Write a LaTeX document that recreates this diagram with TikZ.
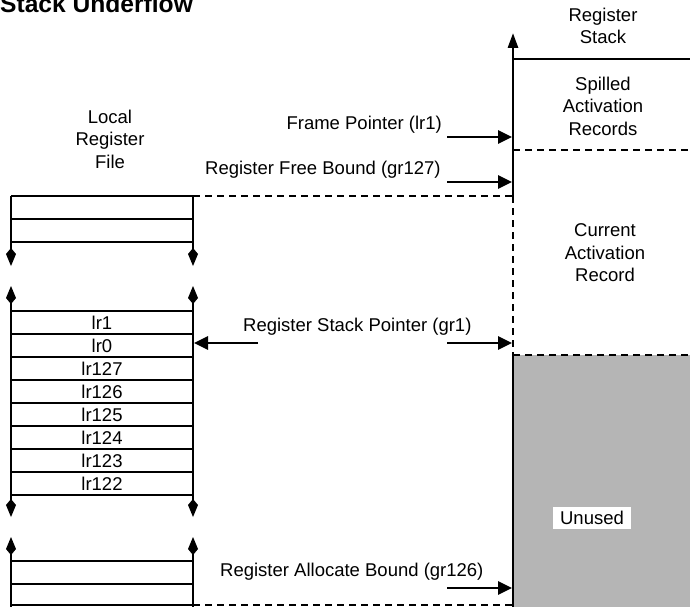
\documentclass[tikz,border=0pt]{standalone}
\usepackage{fontspec}
\setmainfont{Liberation Sans}
\usetikzlibrary{arrows.meta}
\begin{document}
\begin{tikzpicture}[x=1pt,y=-1pt,
  lw/.style={line width=2.8pt},
  dsh/.style={line width=2.8pt, dash pattern=on 7pt off 5pt},
  lbl/.style={font=\fontsize{18.5}{22.5}\selectfont, inner sep=0pt, align=center},
  row/.style={draw, line width=2.8pt, minimum width=182pt, minimum height=23pt, inner sep=0pt, font=\fontsize{18.5}{22.5}\selectfont},
  ptr/.style={line width=2.8pt, -{Triangle[length=14pt,width=13pt]}},
  kite/.style={line width=2.8pt, -{Kite[length=18pt,width=10pt,inset=6pt]}},
  kite2/.style={line width=2.8pt, {Kite[length=18pt,width=10pt,inset=6pt]}-{Kite[length=18pt,width=10pt,inset=6pt]}},
]
\useasboundingbox (0,0) rectangle (690,607);
\clip (0,0) rectangle (690,607);

% title (clipped at top, as in the reference)
\node[anchor=base west, font=\fontsize{24.6}{28}\selectfont\bfseries, inner sep=0pt] (title) at (0,13) {Stack Underflow};

% unused area
\fill[gray!58] (513,355) rectangle (690,607);
\node[lbl, fill=white, inner xsep=7pt, inner ysep=4pt] (un) at (592,518) {Unused};

% key coordinates
\coordinate (fl) at (11,196); \coordinate (fr) at (193,196);
\coordinate (st) at (513,33); \coordinate (s1) at (513,196);
\coordinate (s2) at (513,355); \coordinate (s3) at (513,607);
\coordinate (sR1) at (690,59); \coordinate (sL1) at (513,59);
\coordinate (sR2) at (690,150); \coordinate (sL2) at (513,150);
\coordinate (sR3) at (690,355);
\coordinate (bl) at (193,605); \coordinate (br) at (513,605);

% local register file: top section
\draw[lw] (fl) -- (fr);
\draw[lw] (11,219) -- (193,219);
\draw[lw] (11,242) -- (193,242);
\draw[kite] (fl) -- (11,266);
\draw[kite] (fr) -- (193,266);

% middle section
\draw[kite2] (11,286) -- (11,517);
\draw[kite2] (193,286) -- (193,517);
\foreach \t/\n [count=\i] in {lr1/r1,lr0/r0,lr127/r127,lr126/r126,lr125/r125,lr124/r124,lr123/r123,lr122/r122}{
  \node[row] (\n) at (102,{311+23*(\i-1)+11.5}) {\t};
}

% bottom section
\draw[kite] (11,607) -- (11,537);
\draw[kite] (193,607) -- (193,537);
\draw[lw] (11,561) -- (193,561);
\draw[lw] (11,584) -- (193,584);
\draw[lw] (11,605) -- (193,605);

% register stack
\draw[lw, -{Triangle[length=15pt,width=10pt]}] (s1) -- (st);
\draw[dsh] (s1) -- (s2);
\draw[lw] (s2) -- (s3);
\draw[lw] (sL1) -- (sR1);
\draw[dsh] (sL2) -- (sR2);
\draw[dsh] (fr) -- (s1);
\draw[dsh] (s2) -- (sR3);
\draw[dsh] (bl) -- (br);

% labels
\node[lbl] (lrf) at (110,139) {Local\\Register\\File};
\node[lbl] (rs) at (603,26) {Register\\Stack};
\node[lbl] (sar) at (603,106) {Spilled\\Activation\\Records};
\node[lbl] (car) at (605,253) {Current\\Activation\\Record};

\node[lbl, anchor=east] (fp) at (442,125) {Frame Pointer (lr1)};
\node[lbl, anchor=west] (rfb) at (205,170) {Register Free Bound (gr127)};
\node[lbl, anchor=west] (rsp) at (243,327) {Register Stack Pointer (gr1)};
\node[lbl, anchor=west] (rab) at (220,572) {Register Allocate Bound (gr126)};

% pointer arrows
\coordinate (fpA) at (447,137); \coordinate (fpB) at (512,137);
\coordinate (rfA) at (447,182); \coordinate (rfB) at (512,182);
\coordinate (spA) at (447,343); \coordinate (spB) at (512,343);
\coordinate (spC) at (258,343); \coordinate (spD) at (194,343);
\coordinate (abA) at (447,588); \coordinate (abB) at (512,588);
\draw[ptr] (fpA) -- (fpB);
\draw[ptr] (rfA) -- (rfB);
\draw[ptr] (spA) -- (spB);
\draw[ptr] (spC) -- (spD);
\draw[ptr] (abA) -- (abB);
\end{tikzpicture}
\end{document}
